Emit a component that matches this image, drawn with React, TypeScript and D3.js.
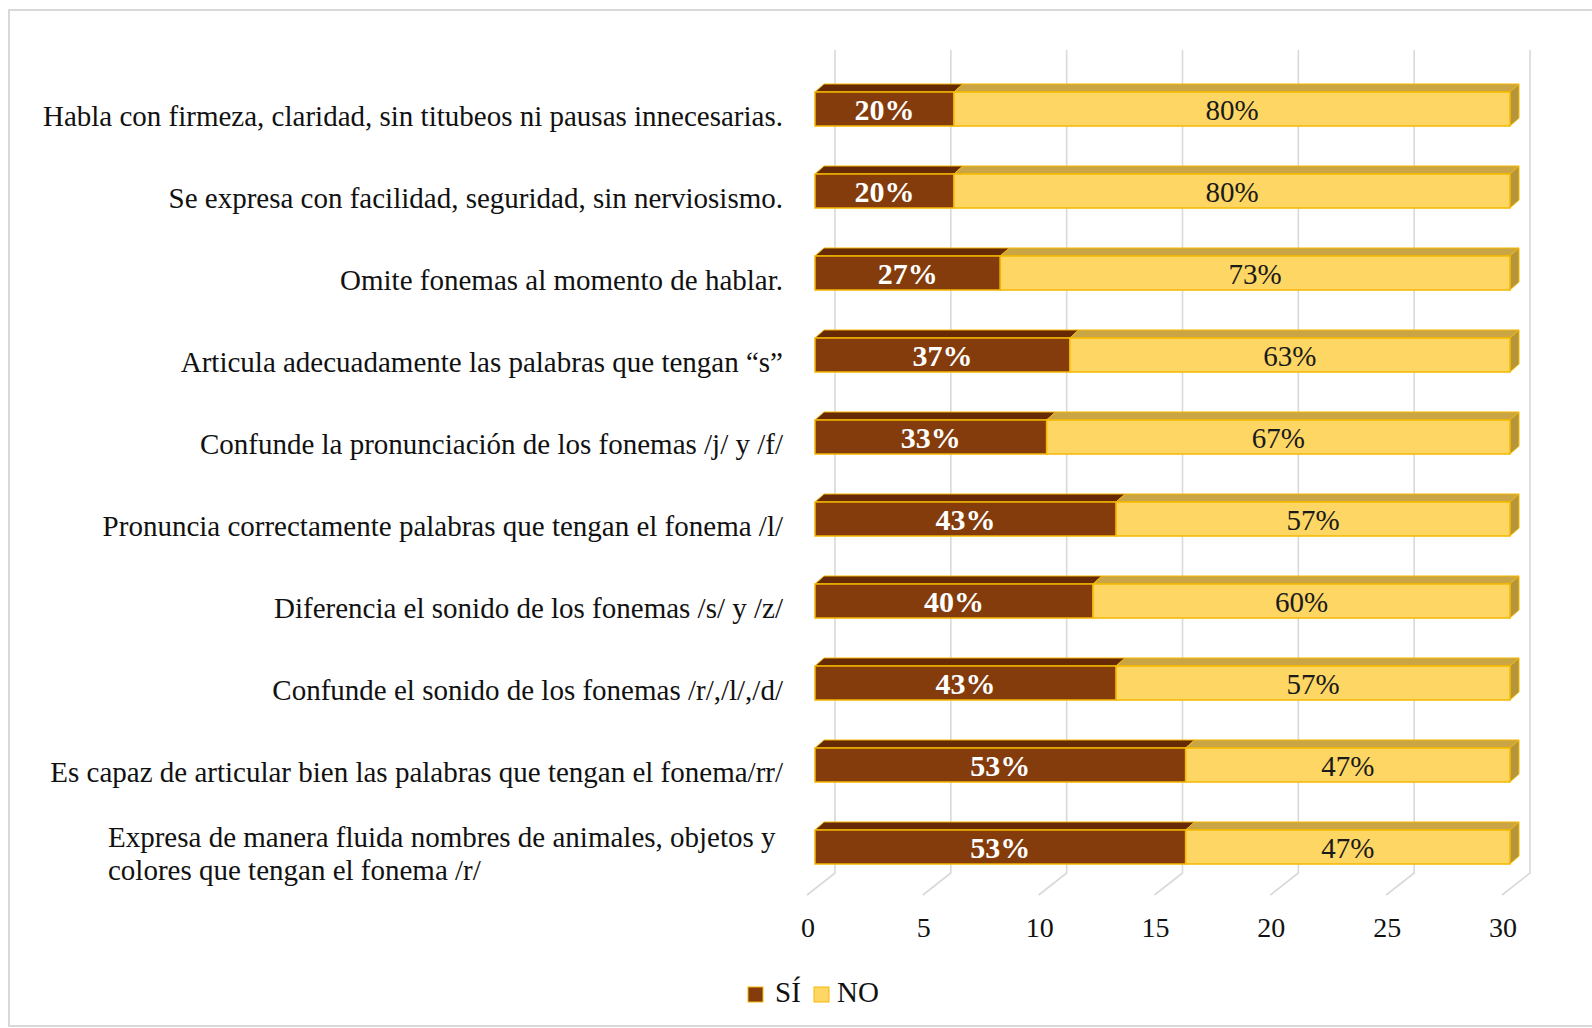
import React from "react";
import * as d3 from "d3";

const categories: string[] = [
  "Habla con firmeza, claridad, sin titubeos ni pausas innecesarias.",
  "Se expresa con facilidad, seguridad, sin nerviosismo.",
  "Omite fonemas al momento de hablar.",
  "Articula adecuadamente las palabras que tengan “s”",
  "Confunde la pronunciación de los fonemas /j/ y /f/",
  "Pronuncia correctamente palabras que tengan el fonema /l/",
  "Diferencia el sonido de los fonemas /s/ y /z/",
  "Confunde el sonido de los fonemas /r/,/l/,/d/",
  "Es capaz de articular bien las palabras que tengan el fonema/rr/",
  "Expresa de manera fluida nombres de animales, objetos y\ncolores que tengan el fonema /r/",
];
const siValues: number[] = [6, 6, 8, 11, 10, 13, 12, 13, 16, 16];
const noValues: number[] = [24, 24, 22, 19, 20, 17, 18, 17, 14, 14];
const siLabels: string[] = ["20%", "20%", "27%", "37%", "33%", "43%", "40%", "43%", "53%", "53%"];
const noLabels: string[] = ["80%", "80%", "73%", "63%", "67%", "57%", "60%", "57%", "47%", "47%"];
const xTicks: number[] = [0, 5, 10, 15, 20, 25, 30];
const legendNames: string[] = ["SÍ", "NO"];

const W = 1592;
const H = 1028;
const FONT = "'Liberation Serif', 'Times New Roman', serif";

const SI_FRONT = "#843C0C";
const SI_TOP = "#662B06";
const NO_FRONT = "#FDD663";
const NO_TOP = "#C9A545";
const NO_SIDE = "#B5953A";
const OUTLINE = "#F5B800";
const GRID = "#D9D9D9";

export default function App() {
  const xBar = d3.scaleLinear().domain([0, 30]).range([815, 1510]);
  const xBack = d3.scaleLinear().domain([0, 30]).range([835, 1530]);
  const xFloor = d3.scaleLinear().domain([0, 30]).range([807, 1502]);
  const y = d3
    .scaleBand<string>()
    .domain(categories)
    .range([68, 888])
    .paddingInner(0.585)
    .paddingOuter(0.2925);
  const bh = y.bandwidth();
  const ddx = 9;
  const ddy = -8;
  const gridTop = 50;
  const floorBack = 873;
  const floorFront = 895;

  const poly = (pts: [number, number][]) => pts.map((p) => p.join(",")).join(" ");

  return (
    <svg
      width={W}
      height={H}
      style={{ position: "absolute", left: 0, top: 0, background: "#fff" }}
      fontFamily={FONT}
    >
      <rect x={0} y={0} width={W} height={H} fill="#fff" />
      <rect x={9} y={10} width={W + 20} height={H - 12} fill="none" stroke={GRID} strokeWidth={2} />

      {xTicks.map((t) => (
        <polyline
          key={"g" + t}
          points={poly([
            [xBack(t), gridTop],
            [xBack(t), floorBack],
            [xFloor(t), floorFront],
          ])}
          fill="none"
          stroke={GRID}
          strokeWidth={1.6}
        />
      ))}

      {xTicks.map((t) => (
        <text key={"t" + t} x={xFloor(t) + 1} y={937} fontSize={28} textAnchor="middle" fill="#111">
          {t}
        </text>
      ))}

      {categories.map((c, i) => {
        const y0 = y(c)!;
        const xs0 = xBar(0);
        const xs1 = xBar(siValues[i]);
        const xn1 = xBar(siValues[i] + noValues[i]);
        const cy = y0 + bh / 2;
        return (
          <g key={"b" + i}>
            <polygon
              points={poly([
                [xs0, y0],
                [xs0 + ddx, y0 + ddy],
                [xs1 + ddx, y0 + ddy],
                [xs1, y0],
              ])}
              fill={SI_TOP}
              stroke={OUTLINE}
              strokeWidth={1}
            />
            <polygon
              points={poly([
                [xs1, y0],
                [xs1 + ddx, y0 + ddy],
                [xn1 + ddx, y0 + ddy],
                [xn1, y0],
              ])}
              fill={NO_TOP}
              stroke={OUTLINE}
              strokeWidth={1}
            />
            <polygon
              points={poly([
                [xn1, y0],
                [xn1 + ddx, y0 + ddy],
                [xn1 + ddx, y0 + bh + ddy],
                [xn1, y0 + bh],
              ])}
              fill={NO_SIDE}
              stroke={OUTLINE}
              strokeWidth={1}
            />
            <rect x={xs0} y={y0} width={xs1 - xs0} height={bh} fill={SI_FRONT} stroke={OUTLINE} strokeWidth={1.5} />
            <rect x={xs1} y={y0} width={xn1 - xs1} height={bh} fill={NO_FRONT} stroke={OUTLINE} strokeWidth={1.5} />
            <text
              x={(xs0 + xs1) / 2}
              y={cy + 10.5}
              fontSize={30}
              fontWeight="bold"
              fill="#fff"
              textAnchor="middle"
            >
              {siLabels[i]}
            </text>
            <text x={(xs1 + xn1) / 2} y={cy + 10.5} fontSize={29} fill="#1a1a1a" textAnchor="middle">
              {noLabels[i]}
            </text>
          </g>
        );
      })}

      {categories.map((c, i) => {
        const lines = c.split("\n");
        const cy = y(c)! + bh / 2 + 7;
        const lh = 33;
        if (lines.length === 1) {
          return (
            <text key={"l" + i} x={783} y={cy + 9.5} fontSize={29} textAnchor="end" fill="#111">
              {c}
            </text>
          );
        }
        const startY = cy + 9.5 - ((lines.length - 1) * lh) / 2;
        return (
          <text key={"l" + i} x={108} fontSize={29} textAnchor="start" fill="#111">
            {lines.map((ln, k) => (
              <tspan key={k} x={108} y={startY + k * lh}>
                {ln}
              </tspan>
            ))}
          </text>
        );
      })}

      <g>
        <rect x={748} y={987} width={15} height={15} fill={SI_FRONT} stroke={OUTLINE} strokeWidth={1} />
        <text x={775} y={1002} fontSize={29} fill="#111">
          {legendNames[0]}
        </text>
        <rect x={814} y={987} width={15} height={15} fill={NO_FRONT} stroke={OUTLINE} strokeWidth={1} />
        <text x={837} y={1002} fontSize={29} fill="#111">
          {legendNames[1]}
        </text>
      </g>
    </svg>
  );
}
